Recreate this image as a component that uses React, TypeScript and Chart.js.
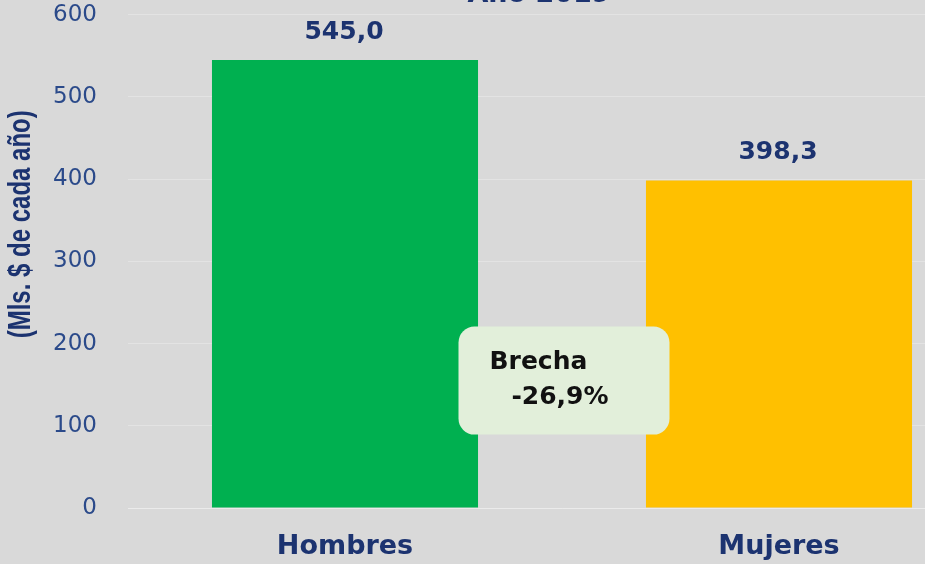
import React, { useEffect, useRef } from "react";
import { Chart, registerables } from "chart.js";

Chart.register(...registerables);

// ---- data ----
const TITLE = "Año 2019";
const Y_TITLE = "(Mls. $ de cada año)";
const CATEGORIES = ["Hombres", "Mujeres"];
const VALUES = [545.0, 398.3];
const BAR_COLORS = ["#00b050", "#ffc000"];
const Y_MIN = 0;
const Y_MAX = 600;
const Y_STEP = 100;
const GAP_LINES = ["Brecha", "-26,9%"];
const GAP_AT_CATEGORY = 0.5;
const GAP_AT_VALUE = 155;

// ---- styles ----
const BG = "#d9d9d9";
const TICK_COLOR = "#2b4a8a";
const LABEL_COLOR = "#1c3370";
const GRID_COLOR = "rgba(255,255,255,0.28)";

const fmt = (v: number) => v.toFixed(1).replace(".", ",");

const bgPlugin = {
  id: "bgFill",
  beforeDraw(chart: any) {
    const { ctx, width, height } = chart;
    ctx.save();
    ctx.fillStyle = BG;
    ctx.fillRect(0, 0, width, height);
    ctx.restore();
  },
};

const titlePlugin = {
  id: "topTitle",
  afterDraw(chart: any) {
    const { ctx, chartArea } = chart;
    ctx.save();
    ctx.textAlign = "center";
    ctx.textBaseline = "alphabetic";
    ctx.fillStyle = LABEL_COLOR;
    ctx.font = "bold 27px 'DejaVu Sans', sans-serif";
    ctx.fillText(TITLE, chartArea.left + 411, chartArea.top - 12.5);
    ctx.restore();
  },
};

const yTitlePlugin = {
  id: "yTitle",
  afterDraw(chart: any) {
    const { ctx, chartArea } = chart;
    ctx.save();
    ctx.translate(21, chartArea.top + 209.5);
    ctx.rotate(-Math.PI / 2);
    ctx.scale(1, 1.3);
    ctx.textAlign = "center";
    ctx.textBaseline = "middle";
    ctx.fillStyle = LABEL_COLOR;
    ctx.font = "bold 24px 'Liberation Sans', Arial, sans-serif";
    ctx.fillText(Y_TITLE, 0, 0);
    ctx.restore();
  },
};

const valueLabelPlugin = {
  id: "valueLabels",
  afterDatasetsDraw(chart: any) {
    const { ctx } = chart;
    const meta = chart.getDatasetMeta(0);
    ctx.save();
    ctx.textAlign = "center";
    ctx.textBaseline = "middle";
    ctx.fillStyle = LABEL_COLOR;
    ctx.font = "bold 25px 'DejaVu Sans', sans-serif";
    meta.data.forEach((bar: any, i: number) => {
      ctx.fillText(fmt(VALUES[i]), bar.x - 1, bar.y - 28);
    });
    ctx.restore();
  },
};

const gapBoxPlugin = {
  id: "gapBox",
  afterDatasetsDraw(chart: any) {
    const { ctx, scales } = chart;
    const cx = scales.x.getPixelForValue(GAP_AT_CATEGORY);
    const cy = scales.y.getPixelForValue(GAP_AT_VALUE);
    const w = 211;
    const h = 108;
    const left = cx - w / 2 + 2;
    const top = cy - h / 2;
    ctx.save();
    ctx.fillStyle = "#e2efda";
    ctx.beginPath();
    ctx.roundRect(left, top, w, h, 16);
    ctx.fill();
    ctx.fillStyle = "#111111";
    ctx.font = "bold 25px 'DejaVu Sans', sans-serif";
    ctx.textBaseline = "middle";
    ctx.textAlign = "left";
    ctx.fillText(GAP_LINES[0], left + 31, top + 36);
    ctx.textAlign = "center";
    ctx.fillText(GAP_LINES[1], left + w / 2 - 4, top + 71);
    ctx.restore();
  },
};

export default function App() {
  const canvasRef = useRef<HTMLCanvasElement | null>(null);

  useEffect(() => {
    document.body.style.margin = "0";
    document.body.style.background = BG;
    const canvas = canvasRef.current;
    if (!canvas) return;
    const chart = new Chart(canvas, {
      type: "bar",
      data: {
        labels: CATEGORIES,
        datasets: [
          {
            data: VALUES,
            backgroundColor: BAR_COLORS,
            borderWidth: 0,
            barPercentage: 0.613,
            categoryPercentage: 1,
          },
        ],
      },
      options: {
        responsive: false,
        animation: false,
        devicePixelRatio: 1,
        layout: { padding: { left: 0, right: 0, top: 43, bottom: 0 } },
        plugins: {
          legend: { display: false },
          tooltip: { enabled: false },
          title: { display: false },
        },
        scales: {
          x: {
            grid: { display: false, drawTicks: false },
            border: { display: true, color: GRID_COLOR, width: 1 },
            ticks: {
              color: LABEL_COLOR,
              padding: 22.8,
              font: { family: "'DejaVu Sans', sans-serif", size: 27, weight: "bold" },
            },
          },
          y: {
            min: Y_MIN,
            max: Y_MAX,
            afterFit(scale: any) {
              scale.width = 128;
            },
            grid: { color: GRID_COLOR, drawTicks: false },
            border: { display: false },
            ticks: {
              stepSize: Y_STEP,
              color: TICK_COLOR,
              padding: 31,
              font: { family: "'DejaVu Sans', sans-serif", size: 23 },
            },
          },
        },
      },
      plugins: [bgPlugin, titlePlugin, yTitlePlugin, valueLabelPlugin, gapBoxPlugin],
    });
    return () => chart.destroy();
  }, []);

  return (
    <div
      style={{
        position: "fixed",
        left: 0,
        top: 0,
        width: 925,
        height: 564,
        overflow: "hidden",
        background: BG,
      }}
    >
      <canvas
        ref={canvasRef}
        width={996}
        height={616}
        style={{ position: "absolute", left: 0, top: -30, width: 996, height: 616 }}
      />
    </div>
  );
}
